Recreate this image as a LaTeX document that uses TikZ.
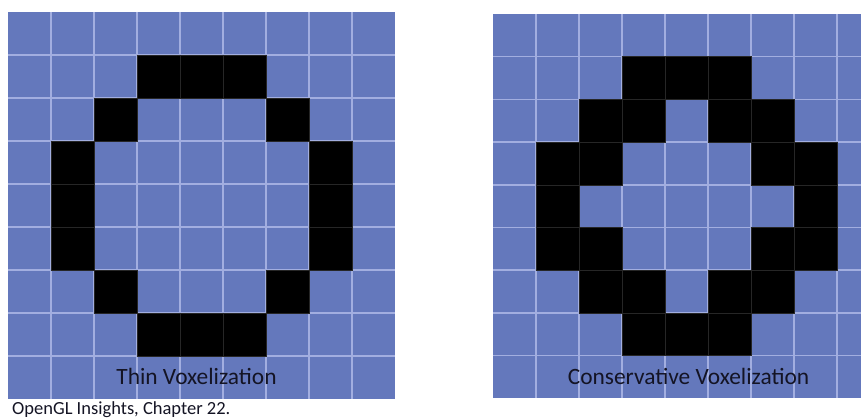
\documentclass[tikz,border=0pt]{standalone}
\usepackage{fontspec}
\setmainfont{Carlito}
\usetikzlibrary{positioning}
\definecolor{voxblue}{HTML}{6478BC}
\definecolor{gridline}{HTML}{A2AEE0}
\definecolor{labelink}{HTML}{141424}

\begin{document}
\begin{tikzpicture}[x=1pt,y=-1pt,
  voxel/.style={fill=black,draw=black!85,line width=0.5pt},
  gridlines/.style={draw=gridline,line width=1.6pt},
  tag/.style={text=labelink,font=\fontsize{23.4}{28}\selectfont,inner sep=0pt,anchor=base}]
\useasboundingbox(0,0)rectangle(861,419);
\clip(0,0)rectangle(861,419);
% thin voxelization
\begin{scope}[shift={(8,12)}]
\fill[voxblue](0,0)rectangle(387,387);
\foreach \i in {1,...,8}
  {\draw[gridlines](\i*43,0)--(\i*43,387);
   \draw[gridlines](0,\i*43)--(387,\i*43);}
\foreach \c/\r in {3/1,4/1,5/1,2/2,6/2,1/3,7/3,1/4,7/4,1/5,7/5,2/6,6/6,3/7,4/7,5/7}
  \draw[voxel](\c*43,\r*43)rectangle++(43,43);
\end{scope}
% conservative voxelization
\begin{scope}[shift={(493,14)}]
\fill[voxblue](0,0)rectangle(387,384);
\foreach \i in {1,...,8}
  {\draw[gridlines](\i*43,0)--(\i*43,384);
   \draw[gridlines](0,\i*42.7)--(387,\i*42.7);}
\foreach \c/\r in {3/1,4/1,5/1,2/2,3/2,5/2,6/2,1/3,2/3,6/3,7/3,1/4,7/4,1/5,2/5,6/5,7/5,2/6,3/6,5/6,6/6,3/7,4/7,5/7}
  \draw[voxel](\c*43,\r*42.7)rectangle++(43,42.7);
\end{scope}
\node[tag](thin)at(196.5,384){Thin Voxelization};
\node[tag](cons)at(688.5,384){Conservative Voxelization};
\node[tag,anchor=base west,font=\fontsize{18.5}{22}\selectfont](src)at(12,414.5){OpenGL Insights, Chapter 22.};
\end{tikzpicture}
\end{document}
